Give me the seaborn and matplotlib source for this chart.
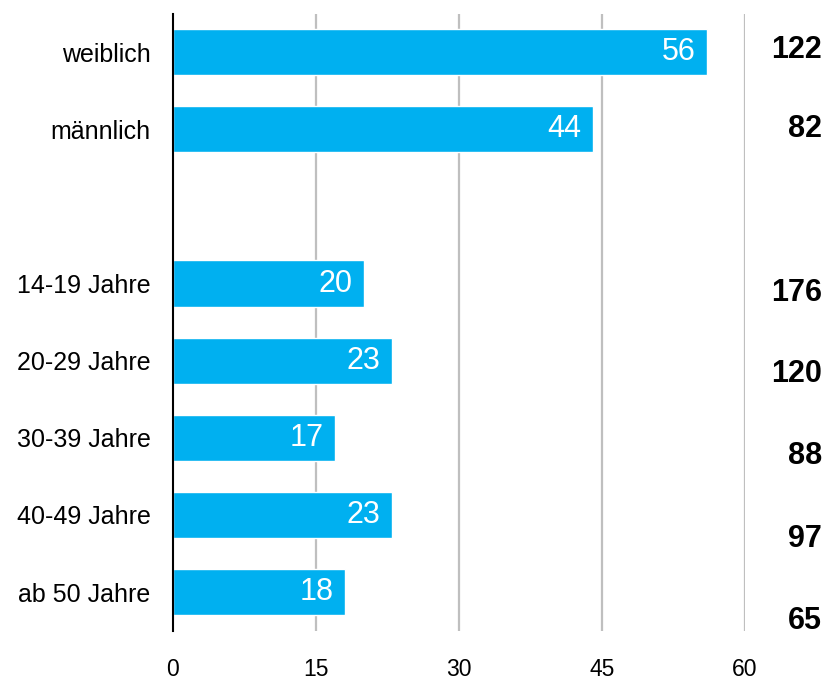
import pandas as pd
import seaborn as sns
import matplotlib.pyplot as plt

# data
categories = ['weiblich', 'männlich', '', '14-19 Jahre', '20-29 Jahre',
              '30-39 Jahre', '40-49 Jahre', 'ab 50 Jahre']
shares = [56, 44, None, 20, 23, 17, 23, 18]
counts = [122, 82, 176, 120, 88, 97, 65]
x_ticks = [0, 15, 30, 45, 60]

# the bold counts sit a bit below their bars, drifting further down
count_pos = [-0.03, 1.0, 3.12, 4.17, 5.23, 6.31, 7.38]

df = pd.DataFrame({'cat': categories, 'share': shares})
df['share'] = df['share'].fillna(0)

sns.set_style('white')
plt.rcParams['font.family'] = ['Liberation Sans', 'DejaVu Sans']

fig = plt.figure(figsize=(8.34, 6.81), dpi=100)
ax = fig.add_axes([0.2074, 0.074, 0.686, 0.906])

sns.barplot(data=df, x='share', y='cat', order=categories, color='#00B0F0',
            saturation=1, width=0.6, ax=ax, zorder=2)

ax.set_xlim(0, 60)
ax.set_ylim(7.5, -0.5)
ax.set_xticks(x_ticks)
ax.set_xticklabels([str(t) for t in x_ticks], fontsize=16.5, color='black')
ax.tick_params(axis='x', length=0, pad=20)
ax.tick_params(axis='y', length=0, pad=16, labelsize=18, labelcolor='black')
ax.set_xlabel('')
ax.set_ylabel('')

ax.grid(False)
for t in x_ticks[1:]:
    ax.axvline(t, color='#bfbfbf', lw=1.6, zorder=1)

for side in ['top', 'right', 'bottom']:
    ax.spines[side].set_visible(False)
ax.spines['left'].set_color('black')
ax.spines['left'].set_linewidth(1.5)
ax.spines['left'].set_zorder(3)

# value labels inside the bars
for i, v in enumerate(shares):
    if v is None:
        continue
    ax.text(v - 1.2, i, str(v), color='white', fontsize=22,
            ha='right', va='center', zorder=4)

# bold counts on the right
for y, c in zip(count_pos, counts):
    ax.text(1.135, y, str(c), transform=ax.get_yaxis_transform(),
            ha='right', va='center', fontsize=22, fontweight='bold',
            color='black')

fig.savefig('out.png', dpi=100)
